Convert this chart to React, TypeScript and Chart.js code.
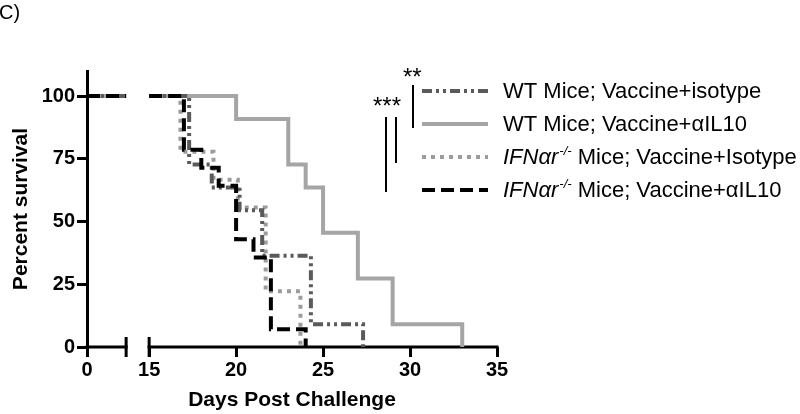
import React, { useEffect, useRef } from "react";
import { Chart, registerables, LinearScale } from "chart.js";

Chart.register(...registerables);

// ---------------- data ----------------
const AXIS_BREAK_FROM = 2.25; // end of first x-axis segment (days)
const AXIS_BREAK_TO = 15; // start of second x-axis segment (days)
const X_MIN = 0;
const X_MAX = 35;
const Y_MIN = 0;
const Y_MAX = 110;
const xTickValues = [0, 15, 20, 25, 30, 35];
const yTickValues = [0, 25, 50, 75, 100];

const xAxisTitle = "Days Post Challenge";
const yAxisTitle = "Percent survival";
const panelLabel = "C)";

// legend: italic prefix, superscript, rest
const legendItalic = ["", "", "IFNαr", "IFNαr"];
const legendSup = ["", "", "-/-", "-/-"];
const legendRest = [
  "WT Mice; Vaccine+isotype",
  "WT Mice; Vaccine+αIL10",
  " Mice; Vaccine+Isotype",
  " Mice; Vaccine+αIL10",
];
const seriesNames = [
  "WT Mice; Vaccine+isotype",
  "WT Mice; Vaccine+αIL10",
  "IFNαr-/- Mice; Vaccine+Isotype",
  "IFNαr-/- Mice; Vaccine+αIL10",
];

// Kaplan-Meier steps: day of drop, survival (%) after drop
const wtIsotypeDays = [17.3, 18.6, 20.2, 21.5, 24.3, 27.3];
const wtIsotypeSurv = [72.7, 63.6, 54.5, 36.4, 9.1, 0];
const wtAil10Days = [20, 23, 24, 25, 27, 29, 33];
const wtAil10Surv = [90.9, 72.7, 63.6, 45.5, 27.3, 9.1, 0];
const ifnIsotypeDays = [16.8, 18.7, 20.1, 21.7, 23.7];
const ifnIsotypeSurv = [77.8, 66.7, 55.6, 22.2, 0];
const ifnAil10Days = [17, 18, 19, 20, 21, 22, 24];
const ifnAil10Surv = [78.6, 71.4, 64.3, 42.9, 35.7, 7.1, 0];
const startSurvival = 100;

const significance = ["**", "***"];

// ---------------- styles ----------------
const seriesColors = ["#5a5a5a", "#a5a5a5", "#9c9c9c", "#000000"];
const seriesDash = [[10, 4, 3, 4, 3, 4], [], [4, 5], [13, 6]];
const LINE_W = 4;
const GAP_PX = 23;
const SANS = '"Liberation Sans", Arial, sans-serif';

function buildSeries(days: number[], surv: number[]) {
  const pts: { x: number; y: number | null }[] = [
    { x: X_MIN, y: startSurvival },
    { x: AXIS_BREAK_FROM, y: startSurvival },
    { x: (AXIS_BREAK_FROM + AXIS_BREAK_TO) / 2, y: null },
    { x: AXIS_BREAK_TO, y: startSurvival },
  ];
  days.forEach((d, i) => pts.push({ x: d, y: surv[i] }));
  return pts;
}

class BrokenLinearScale extends LinearScale {
  static id = "brokenLinear";
  static defaults = LinearScale.defaults;

  _k() {
    const mn = this.min as number;
    const mx = this.max as number;
    return (this.width - GAP_PX) / (AXIS_BREAK_FROM - mn + (mx - AXIS_BREAK_TO));
  }
  getPixelForValue(value: any) {
    if (value === null || value === undefined || Number.isNaN(value)) return NaN;
    const k = this._k();
    const mn = this.min as number;
    if (value <= AXIS_BREAK_FROM) return this.left + (value - mn) * k;
    if (value >= AXIS_BREAK_TO)
      return this.left + (AXIS_BREAK_FROM - mn) * k + GAP_PX + (value - AXIS_BREAK_TO) * k;
    return this.left + (AXIS_BREAK_FROM - mn) * k + GAP_PX / 2;
  }
  getValueForPixel(pixel: number) {
    const k = this._k();
    const mn = this.min as number;
    const firstEnd = this.left + (AXIS_BREAK_FROM - mn) * k;
    if (pixel <= firstEnd) return mn + (pixel - this.left) / k;
    if (pixel < firstEnd + GAP_PX) return (AXIS_BREAK_FROM + AXIS_BREAK_TO) / 2;
    return AXIS_BREAK_TO + (pixel - firstEnd - GAP_PX) / k;
  }
}
Chart.register(BrokenLinearScale);

const brokenAxisPlugin = {
  id: "brokenAxis",
  beforeDatasetsDraw(chart: any) {
    const x = chart.scales.x;
    const y = chart.scales.y;
    const y0 = y.getPixelForValue(Y_MIN);
    const ctx = chart.ctx;
    ctx.save();
    ctx.strokeStyle = "#000";
    ctx.lineWidth = 3;
    ctx.lineCap = "butt";
    const segs = [
      [X_MIN, AXIS_BREAK_FROM],
      [AXIS_BREAK_TO, X_MAX],
    ];
    segs.forEach(([a, b]) => {
      ctx.beginPath();
      ctx.moveTo(x.getPixelForValue(a) - 1.5, y0);
      ctx.lineTo(x.getPixelForValue(b) + 1.5, y0);
      ctx.stroke();
    });
    [AXIS_BREAK_FROM, AXIS_BREAK_TO].forEach((v) => {
      const px = x.getPixelForValue(v);
      ctx.beginPath();
      ctx.moveTo(px, y0 - 10);
      ctx.lineTo(px, y0 + 10);
      ctx.stroke();
    });
    ctx.restore();
  },
};

const legendPlugin = {
  id: "customLegend",
  afterDraw(chart: any) {
    const ctx = chart.ctx;
    const rowsY = [91, 124, 157, 190];
    const lineX0 = 422;
    const lineX1 = 488;
    const textX = 503;
    ctx.save();
    chart.data.datasets.forEach((ds: any, i: number) => {
      const yy = rowsY[i];
      ctx.beginPath();
      ctx.strokeStyle = ds.borderColor;
      ctx.lineWidth = ds.borderWidth;
      ctx.setLineDash(ds.borderDash || []);
      ctx.lineCap = "butt";
      ctx.moveTo(lineX0, yy);
      ctx.lineTo(lineX1, yy);
      ctx.stroke();
      ctx.setLineDash([]);

      ctx.fillStyle = "#000";
      ctx.textBaseline = "middle";
      ctx.textAlign = "left";
      let tx = textX;
      if (legendItalic[i]) {
        ctx.font = `italic 22px ${SANS}`;
        ctx.fillText(legendItalic[i], tx, yy + 1);
        tx += ctx.measureText(legendItalic[i]).width + 1;
        ctx.font = `italic 13px ${SANS}`;
        ctx.fillText(legendSup[i], tx, yy - 6);
        tx += ctx.measureText(legendSup[i]).width;
      }
      ctx.font = `22px ${SANS}`;
      ctx.fillText(legendRest[i], tx, yy + 1);
    });

    // significance brackets
    ctx.strokeStyle = "#000";
    ctx.lineWidth = 2;
    const bars = [
      [413, 85, 128],
      [386, 117, 192],
      [396, 117, 163],
    ];
    bars.forEach(([bx, a, b]) => {
      ctx.beginPath();
      ctx.moveTo(bx, a);
      ctx.lineTo(bx, b);
      ctx.stroke();
    });
    ctx.font = `24px ${SANS}`;
    ctx.textBaseline = "alphabetic";
    ctx.textAlign = "left";
    ctx.fillText(significance[0], 403, 85);
    ctx.fillText(significance[1], 373, 114);

    // panel label
    ctx.font = `20px ${SANS}`;
    ctx.fillText(panelLabel, -1, 19);
    ctx.restore();
  },
};

export default function App() {
  const ref = useRef<HTMLCanvasElement | null>(null);

  useEffect(() => {
    if (!ref.current) return;
    const dayArrays = [wtIsotypeDays, wtAil10Days, ifnIsotypeDays, ifnAil10Days];
    const survArrays = [wtIsotypeSurv, wtAil10Surv, ifnIsotypeSurv, ifnAil10Surv];
    const drawOrder = [2, 3, 4, 1];
    const chart = new Chart(ref.current, {
      type: "line",
      data: {
        datasets: seriesNames.map((name, i) => ({
          label: name,
          data: buildSeries(dayArrays[i], survArrays[i]),
          borderColor: seriesColors[i],
          borderDash: seriesDash[i],
          borderWidth: LINE_W,
          borderCapStyle: "butt",
          borderJoinStyle: "miter",
          stepped: "before",
          pointRadius: 0,
          fill: false,
          spanGaps: false,
          order: drawOrder[i],
        })),
      },
      options: {
        animation: false,
        responsive: false,
        devicePixelRatio: 1,
        parsing: true,
        layout: { padding: { left: 0, top: 71, right: 303, bottom: 0 } },
        plugins: { legend: { display: false }, tooltip: { enabled: false } },
        events: [],
        scales: {
          x: {
            type: "brokenLinear" as any,
            min: X_MIN,
            max: X_MAX,
            afterBuildTicks: (s: any) => {
              s.ticks = xTickValues.map((v) => ({ value: v }));
            },
            afterFit: (s: any) => {
              s.height = 67;
            },
            border: { display: false },
            grid: {
              display: true,
              drawOnChartArea: false,
              drawTicks: true,
              tickLength: 10,
              lineWidth: 3,
              color: "#000",
            },
            ticks: {
              color: "#000",
              padding: 1,
              maxRotation: 0,
              autoSkip: false,
              font: { family: SANS, size: 20, weight: "bold" },
              callback: (v: any) => String(v),
            },
            title: {
              display: true,
              text: xAxisTitle,
              color: "#000",
              padding: { top: 0, bottom: 1 },
              font: { family: SANS, size: 21, weight: "bold" },
            },
          },
          y: {
            type: "linear",
            min: Y_MIN,
            max: Y_MAX,
            afterBuildTicks: (s: any) => {
              s.ticks = yTickValues.map((v) => ({ value: v }));
            },
            afterFit: (s: any) => {
              s.width = 87;
            },
            border: { display: true, width: 3, color: "#000" },
            grid: {
              display: true,
              drawOnChartArea: false,
              drawTicks: true,
              tickLength: 10,
              lineWidth: 3,
              color: "#000",
            },
            ticks: {
              color: "#000",
              padding: 2,
              autoSkip: false,
              font: { family: SANS, size: 20, weight: "bold" },
              callback: (v: any) => String(v),
            },
            title: {
              display: true,
              text: yAxisTitle,
              color: "#000",
              padding: { top: 9, bottom: 0 },
              font: { family: SANS, size: 21, weight: "bold" },
            },
          },
        },
      },
      plugins: [brokenAxisPlugin, legendPlugin],
    } as any);
    return () => chart.destroy();
  }, []);

  return (
    <div style={{ position: "fixed", left: 0, top: 0, width: 800, height: 414, background: "#fff" }}>
      <canvas ref={ref} width={800} height={414} style={{ display: "block" }} />
    </div>
  );
}
